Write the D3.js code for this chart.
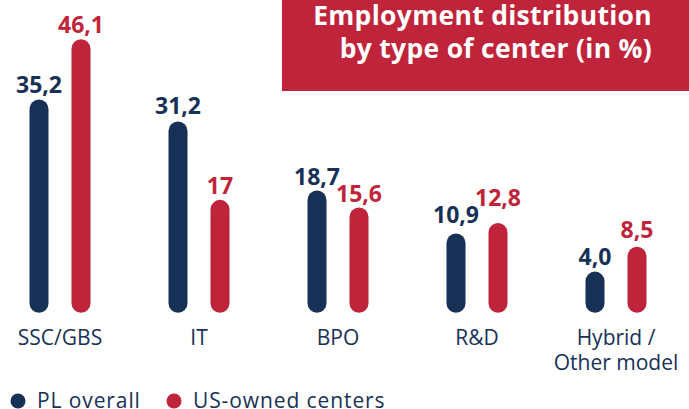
<!DOCTYPE html>
<html>
<head>
<meta charset="utf-8">
<script src="https://cdn.jsdelivr.net/npm/d3@7"></script>
<style>
  body { margin: 0; background: #fff; }
  svg { display: block; font-family: "Open Sans", sans-serif; }
</style>
</head>
<body>
<div id="chart"></div>
<script>
// Dados do gráfico
const categories = ["SSC/GBS", "IT", "BPO", "R&D", "Hybrid /\nOther model"];
const series = ["PL overall", "US-owned centers"];
const plOverall = [35.2, 31.2, 18.7, 10.9, 4.0];
const usOwned = [46.1, 17, 15.6, 12.8, 8.5];
const plLabels = ["35,2", "31,2", "18,7", "10,9", "4,0"];
const usLabels = ["46,1", "17", "15,6", "12,8", "8,5"];
const titleLines = ["Employment distribution", "by type of center (in %)"];

// Ajuste extra (px) dos rótulos que ficam mais altos no original
const plLift = [0, 1, -1, 5, 1];
const usLift = [0, 0, 0, 11, 3];

const width = 689, height = 409;
const navy = "#173156", red = "#c0243a";
const colors = [navy, red];
const barW = 19;

const svg = d3.select("#chart").append("svg")
    .attr("width", width)
    .attr("height", height);

// Caixa do título
svg.append("rect")
    .attr("x", 282).attr("y", 0)
    .attr("width", width - 282).attr("height", 91)
    .attr("fill", red);

svg.append("g").selectAll("text")
    .data(titleLines)
    .enter().append("text")
    .attr("x", 652)
    .attr("y", (d, i) => 25 + i * 33)
    .attr("text-anchor", "end")
    .attr("fill", "#fff")
    .attr("font-weight", 700)
    .attr("font-size", 26.5)
    .attr("letter-spacing", 0.3)
    .text(d => d);

// Escalas
const x = d3.scaleBand()
    .domain(categories)
    .range([-9.5, 685.5])
    .padding(0);

const xSub = d3.scalePoint()
    .domain(series)
    .range([-21, 21]);

const y = d3.scaleLinear()
    .domain([0, 50])
    .range([303.2, 27.2]);

const data = [];
categories.forEach((c, i) => {
    data.push({ cat: c, s: series[0], v: plOverall[i], label: plLabels[i], lift: plLift[i] });
    data.push({ cat: c, s: series[1], v: usOwned[i], label: usLabels[i], lift: usLift[i] });
});

const cx = d => x(d.cat) + x.bandwidth() / 2 + xSub(d.s);

// Barras arredondadas
svg.append("g").selectAll("rect")
    .data(data)
    .enter().append("rect")
    .attr("x", d => cx(d) - barW / 2)
    .attr("y", d => y(d.v) - barW / 2)
    .attr("width", barW)
    .attr("height", d => y(0) - y(d.v) + barW)
    .attr("rx", barW / 2)
    .attr("fill", d => colors[series.indexOf(d.s)]);

// Rótulos de valor
svg.append("g").selectAll("text")
    .data(data)
    .enter().append("text")
    .attr("x", cx)
    .attr("y", d => y(d.v) - barW / 2 - 6 - d.lift)
    .attr("text-anchor", "middle")
    .attr("font-weight", 700)
    .attr("font-size", 23)
    .attr("fill", d => colors[series.indexOf(d.s)])
    .text(d => d.label);

// Rótulos das categorias
const catText = svg.append("g").selectAll("text")
    .data(categories)
    .enter().append("text")
    .attr("x", d => x(d) + x.bandwidth() / 2)
    .attr("y", 345)
    .attr("text-anchor", "middle")
    .attr("font-size", 21)
    .attr("fill", navy);

catText.selectAll("tspan")
    .data(d => d.split("\n"))
    .enter().append("tspan")
    .attr("x", function() { return d3.select(this.parentNode).attr("x"); })
    .attr("dy", (d, i) => i === 0 ? 0 : 25)
    .text(d => d);

// Legenda
const legendX = [18, 174];
const legend = svg.append("g").selectAll("g")
    .data(series)
    .enter().append("g")
    .attr("transform", (d, i) => `translate(${legendX[i]},401)`);

legend.append("circle")
    .attr("r", 7.5)
    .attr("fill", (d, i) => colors[i]);

legend.append("text")
    .attr("x", 19)
    .attr("y", 6.5)
    .attr("font-size", 21)
    .attr("letter-spacing", 0.9)
    .attr("fill", navy)
    .text(d => d);
</script>
</body>
</html>
